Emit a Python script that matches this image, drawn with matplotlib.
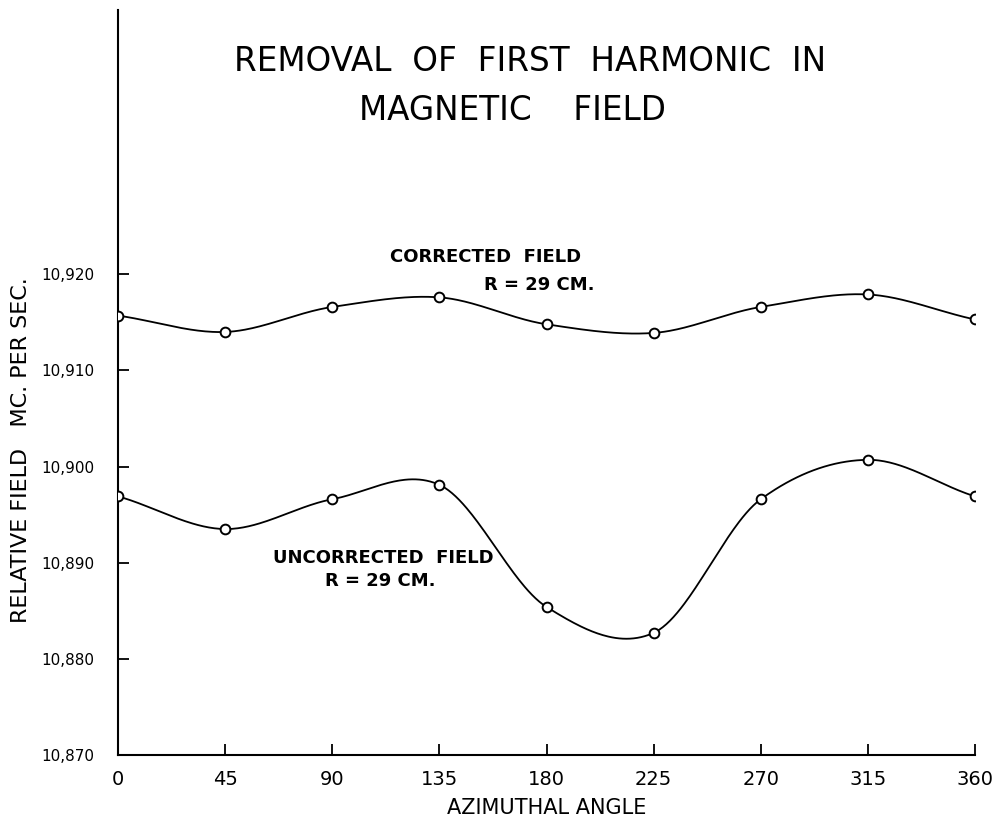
import numpy as np
import matplotlib
matplotlib.use("Agg")
import matplotlib.pyplot as plt

angles = [0, 45, 90, 135, 180, 225, 270, 315, 360]
corrected = [10915.7, 10914.0, 10916.6, 10917.6, 10914.8, 10913.9, 10916.6, 10917.9, 10915.3]
uncorrected = [10896.9, 10893.5, 10896.6, 10898.1, 10885.4, 10882.7, 10896.6, 10900.7, 10896.9]
xticks = [0, 45, 90, 135, 180, 225, 270, 315, 360]
yticks = [10870, 10880, 10890, 10900, 10910, 10920]
ylabels = ["10,870", "10,880", "10,890", "10,900", "10,910", "10,920"]


def cardinal_curve(x, y, tension=0.2, n=60):
    """Smooth Hermite curve through the given points (drawing only)."""
    x = np.asarray(x, float)
    y = np.asarray(y, float)
    m = len(x)
    slopes = np.zeros(m)
    for i in range(m):
        if i == 0:
            slopes[i] = (y[1] - y[0]) / (x[1] - x[0])
        elif i == m - 1:
            slopes[i] = (y[-1] - y[-2]) / (x[-1] - x[-2])
        else:
            slopes[i] = (y[i + 1] - y[i - 1]) / (x[i + 1] - x[i - 1])
    slopes *= (1 - tension)
    xs_all, ys_all = [], []
    for i in range(m - 1):
        h = x[i + 1] - x[i]
        t = np.linspace(0, 1, n)
        h00 = 2 * t**3 - 3 * t**2 + 1
        h10 = t**3 - 2 * t**2 + t
        h01 = -2 * t**3 + 3 * t**2
        h11 = t**3 - t**2
        xs_all.append(x[i] + t * h)
        ys_all.append(h00 * y[i] + h10 * h * slopes[i] + h01 * y[i + 1] + h11 * h * slopes[i + 1])
    return np.concatenate(xs_all), np.concatenate(ys_all)


fig = plt.figure(figsize=(10, 8.26), dpi=100)
ax = fig.add_axes([0.118, 0.086, 0.857, 0.902])

for series in (corrected, uncorrected):
    xs, ys = cardinal_curve(angles, series, tension=0.1)
    ax.plot(xs, ys, color="black", lw=1.3)
    ax.plot(angles, series, "o", mfc="white", mec="black", ms=7, mew=1.4, zorder=3)

ax.set_xlim(0, 360)
ax.set_ylim(10870, 10947.5)
ax.spines["top"].set_visible(False)
ax.spines["right"].set_visible(False)
ax.spines["left"].set_linewidth(1.5)
ax.spines["bottom"].set_linewidth(1.5)
ax.set_xticks(xticks)
ax.set_xticklabels([str(t) for t in xticks], fontsize=14)
ax.set_yticks(yticks)
ax.set_yticklabels(ylabels, fontsize=11)
ax.tick_params(direction="in", length=8, width=1.3, pad=11)
ax.tick_params(axis="y", pad=17)

ax.set_xlabel("AZIMUTHAL ANGLE", fontsize=15, labelpad=6)
fig.text(0.021, 0.455, "RELATIVE FIELD   MC. PER SEC.", rotation=90,
         ha="center", va="center", fontsize=16)

fig.text(0.53, 0.925, "REMOVAL  OF  FIRST  HARMONIC  IN", ha="center", va="center", fontsize=23.5)
fig.text(0.512, 0.866, "MAGNETIC    FIELD", ha="center", va="center", fontsize=23.5)

ax.text(154.5, 10921.8, "CORRECTED  FIELD", ha="center", va="center", fontsize=13, fontweight="bold")
ax.text(177, 10918.9, "R = 29 CM.", ha="center", va="center", fontsize=13, fontweight="bold")
ax.text(111.5, 10890.5, "UNCORRECTED  FIELD", ha="center", va="center", fontsize=13, fontweight="bold")
ax.text(110, 10888.1, "R = 29 CM.", ha="center", va="center", fontsize=13, fontweight="bold")

fig.savefig("out.png", dpi=100, facecolor="white")
